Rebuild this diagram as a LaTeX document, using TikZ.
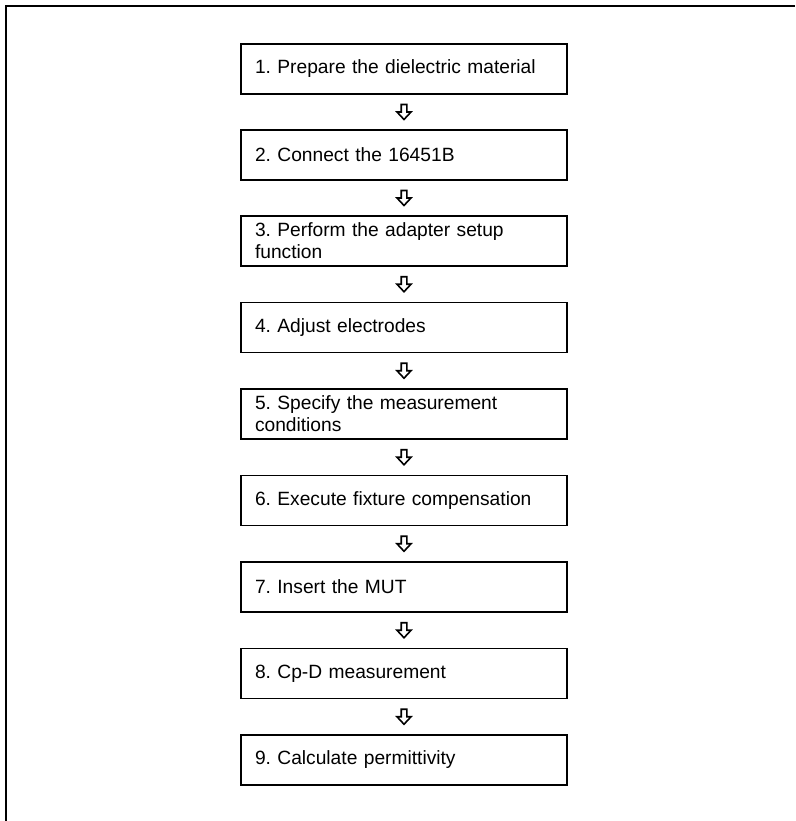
\documentclass[tikz,border=0pt]{standalone}
\usepackage{fontspec}
\setmainfont{Liberation Sans}
\frenchspacing
\usetikzlibrary{calc}

\tikzset{
  stepbox/.style={draw=black, line width=1.6pt, minimum width=326pt, minimum height=50pt,
    text width=298pt, inner xsep=14pt, align=left, font=\fontsize{19.2}{22}\selectfont},
  downarrow/.pic={
    \draw[line width=1.6pt, line join=miter] (-2.8,-7.5) -- (2.8,-7.5) -- (2.8,0) -- (7,0)
      -- (0,7.5) -- (-7,0) -- (-2.8,0) -- cycle;
  }
}

\begin{document}
\begin{tikzpicture}[x=1pt,y=-1pt]
\useasboundingbox (0,0) rectangle (795,821);
% frame, only top and left show
\draw[line width=2.2pt] (6,821) -- (6,6) -- (795,6);

\node[stepbox] (s1) at (404,69) {1. Prepare the dielectric material};
\node[stepbox] (s2) at (404,155) {2. Connect the 16451B};
\node[stepbox] (s3) at (404,241) {3. Perform the adapter setup\\function};
\node[stepbox] (s4) at (404,327.5) {4. Adjust electrodes};
\node[stepbox] (s5) at (404,414) {5. Specify the measurement\\conditions};
\node[stepbox] (s6) at (404,500.5) {6. Execute fixture compensation};
\node[stepbox] (s7) at (404,587) {7. Insert the MUT};
\node[stepbox] (s8) at (404,673.5) {8. Cp-D measurement};
\node[stepbox] (s9) at (404,760) {9. Calculate permittivity};

% block arrows between the steps
\path ($(s1.south)!0.5!(s2.north)$) pic {downarrow};
\path ($(s2.south)!0.5!(s3.north)$) pic {downarrow};
\path ($(s3.south)!0.5!(s4.north)$) pic {downarrow};
\path ($(s4.south)!0.5!(s5.north)$) pic {downarrow};
\path ($(s5.south)!0.5!(s6.north)$) pic {downarrow};
\path ($(s6.south)!0.5!(s7.north)$) pic {downarrow};
\path ($(s7.south)!0.5!(s8.north)$) pic {downarrow};
\path ($(s8.south)!0.5!(s9.north)$) pic {downarrow};
\end{tikzpicture}
\end{document}
